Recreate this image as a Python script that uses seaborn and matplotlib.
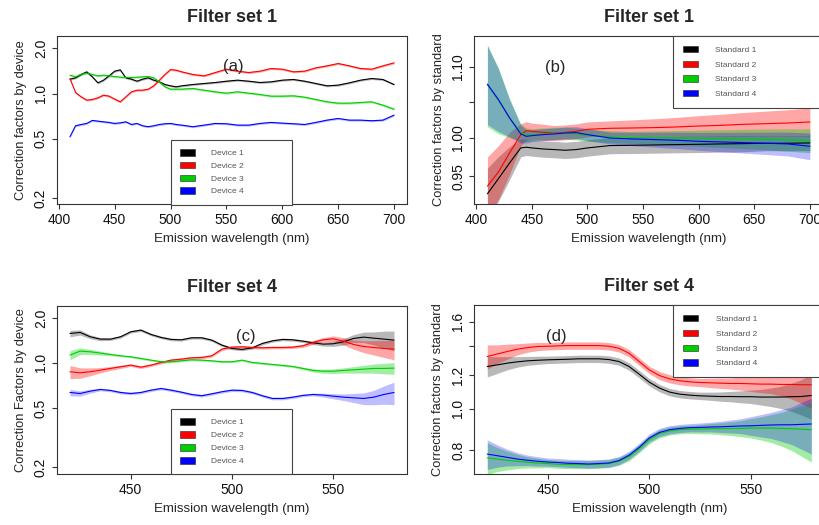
import numpy as np
import pandas as pd
import matplotlib
matplotlib.use("Agg")
import matplotlib.pyplot as plt
from matplotlib.patches import Patch
from matplotlib.ticker import NullLocator
import seaborn as sns

sns.set_style("ticks")
plt.rcParams["font.family"] = ["Liberation Sans", "DejaVu Sans"]

COLORS = ["#000000", "#FF0000", "#00CD00", "#0000FF"]
BAND_ALPHA = [0.28, 0.35, 0.36, 0.26]
DEVICES = ["Device 1", "Device 2", "Device 3", "Device 4"]
STANDARDS = ["Standard 1", "Standard 2", "Standard 3", "Standard 4"]

# ---- panel (a): filter set 1, by device
a_wl = [410, 415, 420, 425, 430, 435, 440, 445, 450, 455, 460, 465, 470, 475, 480, 485,
        490, 495, 500, 505, 510, 520, 530, 540, 550, 560, 570, 580, 590, 600, 610, 620,
        630, 640, 650, 660, 670, 680, 690, 700]
a_dev1 = [1.246, 1.272, 1.339, 1.395, 1.292, 1.178, 1.227, 1.311, 1.409, 1.438,
          1.272, 1.246, 1.208, 1.246, 1.272, 1.227, 1.196, 1.148, 1.125, 1.108,
          1.125, 1.148, 1.166, 1.184, 1.208, 1.227, 1.208, 1.184, 1.196, 1.227,
          1.240, 1.208, 1.166, 1.125, 1.137, 1.178, 1.227, 1.259, 1.240, 1.148]
a_dev2 = [1.259, 1.015, 0.950, 0.903, 0.912, 0.936, 0.975, 0.960, 0.917, 0.880,
          0.950, 1.026, 1.052, 1.052, 1.069, 1.125, 1.227, 1.339, 1.445, 1.431,
          1.395, 1.339, 1.311, 1.380, 1.453, 1.409, 1.380, 1.409, 1.468, 1.453,
          1.395, 1.409, 1.483, 1.529, 1.585, 1.529, 1.468, 1.453, 1.529, 1.601]
a_dev3 = [1.325, 1.292, 1.345, 1.366, 1.339, 1.311, 1.325, 1.311, 1.298, 1.285,
          1.279, 1.279, 1.285, 1.292, 1.298, 1.272, 1.196, 1.108, 1.069, 1.069,
          1.069, 1.080, 1.052, 1.026, 1.005, 1.026, 1.005, 0.985, 0.960, 0.960,
          0.965, 0.945, 0.912, 0.880, 0.862, 0.862, 0.871, 0.880, 0.836, 0.786]
a_dev4 = [0.514, 0.609, 0.621, 0.631, 0.661, 0.654, 0.647, 0.641, 0.631, 0.637,
          0.647, 0.621, 0.631, 0.609, 0.600, 0.609, 0.621, 0.628, 0.631, 0.621,
          0.615, 0.600, 0.615, 0.631, 0.628, 0.615, 0.615, 0.631, 0.641, 0.634,
          0.628, 0.621, 0.641, 0.664, 0.681, 0.664, 0.664, 0.658, 0.664, 0.717]
a_band = 0.015  # relative half width of the (very thin) bands

# ---- panel (b): filter set 1, by standard
b_wl = [410, 420, 430, 440, 445, 450, 460, 470, 480, 490, 500, 520, 540, 560, 580,
        600, 620, 640, 660, 680, 700]
b_std1 = [0.9276, 0.9469, 0.9670, 0.9867, 0.9876, 0.9867, 0.9853, 0.9845, 0.9836, 0.9845,
          0.9867, 0.9898, 0.9902, 0.9906, 0.9911, 0.9915, 0.9920, 0.9924, 0.9929, 0.9929, 0.9933]
b_std2 = [0.9372, 0.9554, 0.9801, 1.0045, 1.0099, 1.0090, 1.0076, 1.0067, 1.0076, 1.0090,
          1.0117, 1.0131, 1.0135, 1.0140, 1.0149, 1.0162, 1.0171, 1.0185, 1.0194, 1.0203, 1.0217]
b_std3 = [1.0742, 1.0519, 1.0272, 1.0067, 1.0045, 1.0045, 1.0054, 1.0063, 1.0067, 1.0054,
          1.0036, 1.0018, 1.0009, 1.0004, 1.0000, 0.9996, 0.9991, 0.9987, 0.9982, 0.9973, 0.9964]
b_std4 = [1.0752, 1.0528, 1.0272, 1.0054, 1.0022, 1.0031, 1.0045, 1.0054, 1.0067, 1.0072,
          1.0045, 1.0000, 0.9987, 0.9978, 0.9969, 0.9955, 0.9946, 0.9938, 0.9929, 0.9920, 0.9889]
b_w1 = [0.035, 0.030, 0.022, 0.012, 0.011, 0.011, 0.011, 0.011, 0.011, 0.011, 0.011,
        0.011, 0.011, 0.011, 0.011, 0.011, 0.011, 0.011, 0.010, 0.010, 0.010]
b_w2 = [0.040, 0.036, 0.028, 0.015, 0.012, 0.011, 0.011, 0.010, 0.010, 0.010, 0.010,
        0.010, 0.011, 0.012, 0.013, 0.014, 0.015, 0.016, 0.017, 0.018, 0.019]
b_w3 = [0.055, 0.044, 0.026, 0.012, 0.009, 0.008, 0.008, 0.008, 0.008, 0.008, 0.008,
        0.008, 0.008, 0.009, 0.010, 0.011, 0.012, 0.013, 0.014, 0.015, 0.016]
b_w4 = [0.053, 0.042, 0.025, 0.012, 0.009, 0.008, 0.008, 0.008, 0.008, 0.008, 0.008,
        0.008, 0.009, 0.010, 0.011, 0.012, 0.013, 0.014, 0.015, 0.016, 0.018]

# ---- panels (c) and (d): filter set 4
c_wl = [420, 425, 430, 435, 440, 445, 450, 455, 460, 465, 470, 475, 480, 485, 490, 495,
        500, 505, 510, 515, 520, 525, 530, 535, 540, 545, 550, 555, 560, 565, 570, 575, 580]
c_dev1 = [1.572, 1.597, 1.494, 1.441, 1.441, 1.494, 1.613, 1.655, 1.548, 1.479,
          1.434, 1.426, 1.471, 1.471, 1.419, 1.314, 1.248, 1.229, 1.261, 1.348,
          1.404, 1.434, 1.426, 1.397, 1.362, 1.334, 1.341, 1.383, 1.456, 1.486,
          1.463, 1.441, 1.419]
c_dev2 = [0.872, 0.858, 0.872, 0.894, 0.918, 0.941, 0.966, 0.936, 0.966, 1.006,
          1.043, 1.059, 1.081, 1.087, 1.115, 1.235, 1.274, 1.280, 1.267, 1.261,
          1.267, 1.267, 1.274, 1.300, 1.369, 1.426, 1.448, 1.397, 1.327, 1.287,
          1.267, 1.248, 1.235]
c_dev3 = [1.126, 1.198, 1.186, 1.162, 1.138, 1.115, 1.098, 1.070, 1.043, 1.017,
          1.017, 1.032, 1.048, 1.043, 1.032, 1.017, 1.017, 1.043, 1.006, 0.991,
          0.976, 0.961, 0.946, 0.918, 0.890, 0.880, 0.880, 0.890, 0.899, 0.908,
          0.918, 0.918, 0.922]
c_dev4 = [0.634, 0.624, 0.647, 0.664, 0.654, 0.634, 0.624, 0.634, 0.657, 0.674,
          0.657, 0.637, 0.615, 0.603, 0.621, 0.641, 0.657, 0.654, 0.634, 0.603,
          0.578, 0.578, 0.590, 0.606, 0.615, 0.609, 0.599, 0.590, 0.584, 0.578,
          0.590, 0.615, 0.634]
c_w1 = [0.05, 0.04, 0.03, 0.025, 0.02, 0.02, 0.02, 0.02, 0.02, 0.02, 0.02, 0.02, 0.02,
        0.02, 0.02, 0.02, 0.02, 0.02, 0.02, 0.02, 0.02, 0.02, 0.02, 0.02, 0.025, 0.03,
        0.04, 0.05, 0.06, 0.08, 0.10, 0.13, 0.15]
c_w2 = [0.10, 0.08, 0.06, 0.04, 0.03, 0.025, 0.02, 0.02, 0.02, 0.02, 0.02, 0.02, 0.02,
        0.02, 0.02, 0.02, 0.02, 0.02, 0.02, 0.02, 0.02, 0.02, 0.02, 0.025, 0.03, 0.035,
        0.045, 0.055, 0.07, 0.09, 0.11, 0.13, 0.15]
c_w3 = [0.07, 0.05, 0.04, 0.03, 0.02, 0.015, 0.015, 0.015, 0.015, 0.015, 0.015, 0.015,
        0.015, 0.015, 0.015, 0.015, 0.015, 0.015, 0.015, 0.015, 0.015, 0.015, 0.015, 0.02,
        0.025, 0.03, 0.035, 0.04, 0.05, 0.06, 0.07, 0.08, 0.09]
c_w4 = [0.05, 0.04, 0.03, 0.02, 0.02, 0.02, 0.02, 0.02, 0.02, 0.02, 0.02, 0.02, 0.02,
        0.02, 0.02, 0.02, 0.02, 0.02, 0.02, 0.02, 0.02, 0.02, 0.02, 0.02, 0.02, 0.03,
        0.04, 0.05, 0.07, 0.09, 0.11, 0.14, 0.17]

d_std1 = [1.256, 1.267, 1.279, 1.288, 1.295, 1.299, 1.302, 1.304, 1.306, 1.309,
          1.309, 1.309, 1.304, 1.290, 1.256, 1.205, 1.154, 1.118, 1.094, 1.082,
          1.076, 1.072, 1.070, 1.068, 1.068, 1.067, 1.067, 1.065, 1.065, 1.065,
          1.067, 1.068, 1.074]
d_std2 = [1.325, 1.344, 1.362, 1.379, 1.391, 1.399, 1.401, 1.404, 1.406, 1.406,
          1.406, 1.406, 1.401, 1.386, 1.349, 1.290, 1.233, 1.196, 1.175, 1.163,
          1.156, 1.152, 1.150, 1.148, 1.146, 1.146, 1.144, 1.142, 1.142, 1.140,
          1.140, 1.138, 1.138]
d_std3 = [0.767, 0.762, 0.757, 0.753, 0.749, 0.746, 0.744, 0.741, 0.740, 0.740,
          0.740, 0.741, 0.744, 0.753, 0.772, 0.806, 0.846, 0.874, 0.887, 0.893,
          0.895, 0.896, 0.898, 0.898, 0.899, 0.899, 0.901, 0.901, 0.901, 0.899,
          0.898, 0.895, 0.893]
d_std4 = [0.783, 0.776, 0.769, 0.762, 0.757, 0.753, 0.750, 0.748, 0.745, 0.744,
          0.742, 0.744, 0.746, 0.756, 0.778, 0.812, 0.854, 0.880, 0.893, 0.899,
          0.903, 0.904, 0.906, 0.907, 0.909, 0.911, 0.912, 0.914, 0.916, 0.917,
          0.917, 0.919, 0.921]
d_w1 = [0.055, 0.045, 0.035, 0.028, 0.024, 0.022, 0.02, 0.02, 0.02, 0.02, 0.02, 0.02,
        0.02, 0.02, 0.02, 0.02, 0.02, 0.02, 0.02, 0.02, 0.02, 0.02, 0.022, 0.025, 0.028,
        0.032, 0.036, 0.042, 0.05, 0.06, 0.075, 0.095, 0.12]
d_w2 = [0.065, 0.05, 0.04, 0.03, 0.025, 0.022, 0.02, 0.02, 0.02, 0.02, 0.02, 0.02,
        0.02, 0.02, 0.02, 0.02, 0.02, 0.022, 0.022, 0.022, 0.022, 0.022, 0.025, 0.028,
        0.03, 0.035, 0.04, 0.045, 0.05, 0.06, 0.075, 0.095, 0.12]
d_w3 = [0.085, 0.065, 0.05, 0.038, 0.03, 0.026, 0.022, 0.022, 0.022, 0.022, 0.022,
        0.022, 0.022, 0.022, 0.022, 0.022, 0.022, 0.022, 0.022, 0.022, 0.022, 0.025,
        0.028, 0.032, 0.037, 0.043, 0.052, 0.062, 0.075, 0.09, 0.11, 0.135, 0.16]
d_w4 = [0.08, 0.06, 0.045, 0.035, 0.028, 0.025, 0.022, 0.022, 0.022, 0.022, 0.022,
        0.022, 0.022, 0.022, 0.022, 0.022, 0.022, 0.022, 0.022, 0.022, 0.022, 0.024,
        0.026, 0.03, 0.035, 0.04, 0.05, 0.06, 0.07, 0.085, 0.10, 0.125, 0.15]

AX_COLOR = "#333333"


def draw_panel(ax, wl, series, widths, names):
    rows = []
    for name, vals in zip(names, series):
        rows += [(w, v, name) for w, v in zip(wl, vals)]
    df = pd.DataFrame(rows, columns=["wl", "value", "series"])
    # confidence bands first, lines on top
    for vals, wd, col, al in zip(series, widths, COLORS, BAND_ALPHA):
        y = np.asarray(vals)
        wd = np.broadcast_to(np.asarray(wd, dtype=float), y.shape)
        ax.fill_between(wl, y * (1 - wd), y * (1 + wd), color=col, alpha=al, lw=0)
    sns.lineplot(data=df, x="wl", y="value", hue="series", palette=COLORS,
                 ax=ax, legend=False, lw=0.8, errorbar=None)
    ax.set_yscale("log")


def style_axes(ax, title, ylabel, xlim, xticks, ylim, yticks, ylabels):
    ax.set_xlim(*xlim)
    ax.set_ylim(*ylim)
    ax.set_xticks(xticks)
    ax.set_xticklabels([str(t) for t in xticks])
    ax.set_yticks(yticks)
    ax.set_yticklabels(ylabels, rotation=90, va="center")
    ax.yaxis.set_minor_locator(NullLocator())
    ax.xaxis.set_minor_locator(NullLocator())
    for sp in ax.spines.values():
        sp.set_visible(True)
        sp.set_color(AX_COLOR)
        sp.set_linewidth(0.8)
    ax.tick_params(direction="out", length=3.5, width=0.8, color=AX_COLOR,
                   labelsize=10, pad=3, labelcolor="#111111")
    ax.set_title(title, fontsize=13, fontweight="bold", pad=10)
    ax.set_xlabel("Emission wavelength (nm)", fontsize=9.5, labelpad=4)
    ax.set_ylabel(ylabel, fontsize=9.3, labelpad=5)


def add_legend(ax, names, anchor, spacing, pad, textpad):
    handles = [Patch(facecolor=c, edgecolor="#222222", lw=0.4) for c in COLORS]
    leg = ax.legend(handles, names, loc="upper left", bbox_to_anchor=anchor,
                    mode="expand", fontsize=6, frameon=True, fancybox=False,
                    framealpha=1, edgecolor="#444444", borderpad=pad,
                    labelspacing=spacing, handlelength=1.75, handleheight=0.8,
                    handletextpad=textpad, borderaxespad=0)
    leg.get_frame().set_linewidth(0.8)
    for t in leg.get_texts():
        t.set_color("#555555")
    leg.set_zorder(5)


fig = plt.figure(figsize=(8.2, 5.25), dpi=100)
ax_a = fig.add_axes([57 / 820, 1 - 204 / 525, 350 / 820, 168 / 525])
ax_b = fig.add_axes([474.5 / 820, 1 - 204 / 525, 348.3 / 820, 168 / 525])
ax_c = fig.add_axes([57 / 820, 1 - 474.3 / 525, 350 / 820, 168.6 / 525])
ax_d = fig.add_axes([474.3 / 820, 1 - 474.3 / 525, 350 / 820, 169.3 / 525])

draw_panel(ax_a, a_wl, [a_dev1, a_dev2, a_dev3, a_dev4], [a_band] * 4, DEVICES)
style_axes(ax_a, "Filter set 1", "Correction factors by device", (398.4, 711.6),
           [400, 450, 500, 550, 600, 650, 700], (0.183, 2.42),
           [0.2, 0.5, 1.0, 2.0], ["0.2", "0.5", "1.0", "2.0"])
add_legend(ax_a, DEVICES, (0.326, 0.0, 0.346, 0.381), 0.56, 1.1, 1.9)
ax_a.text(556, 1.52, "(a)", fontsize=12, ha="center", va="center")

draw_panel(ax_b, b_wl, [b_std1, b_std2, b_std3, b_std4], [b_w1, b_w2, b_w3, b_w4], STANDARDS)
style_axes(ax_b, "Filter set 1", "Correction factors by standard", (398.4, 711.6),
           [400, 450, 500, 550, 600, 650, 700], (0.915, 1.147),
           [0.95, 1.00, 1.05, 1.10], ["0.95", "1.00", "", "1.10"])
add_legend(ax_b, STANDARDS, (0.57, 0.0, 0.45, 1.0), 0.78, 1.2, 2.1)
ax_b.text(471, 1.10, "(b)", fontsize=12, ha="center", va="center")

draw_panel(ax_c, c_wl, [c_dev1, c_dev2, c_dev3, c_dev4], [c_w1, c_w2, c_w3, c_w4], DEVICES)
style_axes(ax_c, "Filter set 4", "Correction Factors by device", (413.6, 586.4),
           [450, 500, 550], (0.18, 2.41),
           [0.2, 0.5, 1.0, 2.0], ["0.2", "0.5", "1.0", "2.0"])
add_legend(ax_c, DEVICES, (0.326, 0.0, 0.346, 0.386), 0.58, 1.1, 1.9)
ax_c.text(507, 1.5, "(c)", fontsize=12, ha="center", va="center")

draw_panel(ax_d, c_wl, [d_std1, d_std2, d_std3, d_std4], [d_w1, d_w2, d_w3, d_w4], STANDARDS)
style_axes(ax_d, "Filter set 4", "Correction factors by standard", (413.6, 586.4),
           [450, 500, 550], (0.702, 1.75),
           [0.8, 1.0, 1.2, 1.4, 1.6], ["0.8", "1.0", "1.2", "", "1.6"])
add_legend(ax_d, STANDARDS, (0.569, 0.0, 0.45, 1.0), 0.8, 1.2, 2.1)
ax_d.text(454, 1.48, "(d)", fontsize=12, ha="center", va="center")

fig.savefig("out.png", dpi=100)
